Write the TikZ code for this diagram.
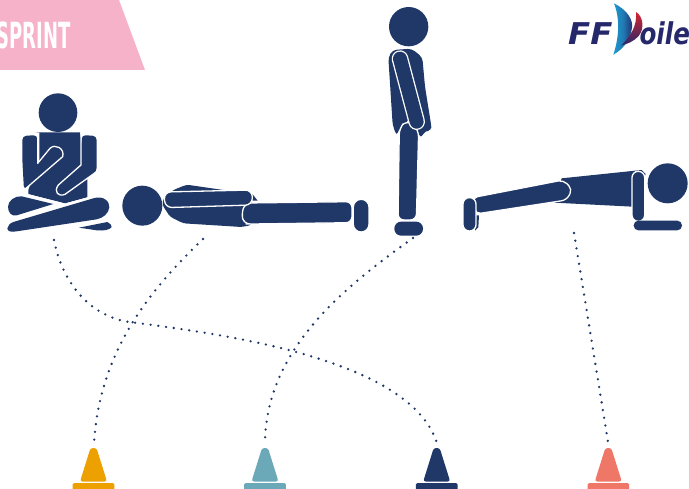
\documentclass[tikz,border=0pt]{standalone}
\usepackage{fontspec}
\setmainfont{DejaVu Sans}
\newfontfamily\logofont{DejaVu Sans}
\definecolor{navy}{HTML}{1F3868}
\definecolor{pinkbar}{HTML}{F5B2C8}
\definecolor{conea}{HTML}{EDA100}
\definecolor{coneb}{HTML}{6BA9B8}
\definecolor{conec}{HTML}{EE7768}
\definecolor{ffblue}{HTML}{25296B}
\definecolor{sailblue}{HTML}{1E9AD0}
\definecolor{sailred}{HTML}{D8232F}
\newcommand{\conemark}[2]{%
  \fill[#2,rounded corners=2.5pt] (#1-13.5,481.5) -- (#1-3,448) -- (#1+3,448) -- (#1+13.5,481.5) -- cycle;
  \fill[#2,rounded corners=1.5pt] (#1-20.8,483) rectangle (#1+20.8,493);
}
\tikzset{
  x=1pt,y=-1pt,
  body/.style={fill=navy,draw=none},
  limb/.style={fill=navy,draw=white,line width=1.3pt},
  edgeline/.style={draw=white,line width=1.3pt,line cap=round,line join=round},
  route/.style={draw=navy,line width=2.6pt,line cap=round,dash pattern=on 0pt off 7.8pt},
}
\begin{document}
\begin{tikzpicture}
\useasboundingbox (0,0) rectangle (689,489);
\begin{scope}
\clip (0,0) rectangle (689,489);
% banner
\fill[pinkbar] (0,0) -- (119,0) -- (145,70) -- (0,70) -- cycle;
\node[anchor=east,text=white,inner sep=0pt,xscale=0.5,font=\fontsize{36}{36}\selectfont\bfseries] (banner) at (70.5,35.5) {SPRINT};
% logo
\begin{scope}[shift={(550,0)},scale=1/3]
\shade[left color=sailblue,right color=ffblue,middle color=sailblue!70!ffblue] (192,10) .. controls (232,30) and (250,60) .. (246,84) .. controls (240,125) and (215,150) .. (190,164) .. controls (205,120) and (212,60) .. (192,10) -- cycle;
\shade[top color=sailred,bottom color=ffblue] (258,36) .. controls (280,50) and (284,85) .. (266,108) .. controls (252,124) and (232,132) .. (214,136) .. controls (240,110) and (262,80) .. (258,36) -- cycle;
\node[anchor=base west,inner sep=0pt,text=ffblue,xscale=1.08,font=\logofont\fontsize{30}{30}\selectfont\bfseries\itshape] (logoff) at (54,135) {FF};
\node[anchor=base west,inner sep=0pt,text=ffblue,xscale=0.82,font=\logofont\fontsize{30}{30}\selectfont\bfseries\itshape] (logov) at (268,135) {oile};
\end{scope}
% seated figure
\begin{scope}[shift={(0,80)},scale=1/3]
\fill[navy] (174,98) circle (58);
\path[body] (105,157) -- (240,157) -- (262,300) -- (262,352) -- (195,370) -- (85,342) -- (85,330) -- (118,240) -- (118,158) -- cycle;
\path[body,rounded corners=4pt] (112,165) -- (67,168) -- (67,240) -- (72,330) -- (195,225) -- (180,195) -- (150,197) -- (112,250) -- cycle;
\path[body,rounded corners=4pt] (245,165) -- (290,168) -- (290,275) -- (190,347) -- (165,345) -- (165,318) -- (245,255) -- cycle;
\draw[edgeline] (113,160) -- (113,250) -- (150,205) .. controls (165,190) and (195,205) .. (188,230) -- (72,330);
\draw[edgeline] (243,158) -- (243,255) -- (175,315) .. controls (160,335) and (175,352) .. (195,343) -- (290,275);
\draw[edgeline] (85,345) -- (195,373) -- (262,354);
\path[body] (24,380) .. controls (24,362) and (45,347) .. (65,349) -- (160,372) -- (50,406) .. controls (35,410) and (24,398) .. (24,380) -- cycle;
\path[body] (22,445) .. controls (24,435) and (30,430) .. (40,426) -- (280,355) .. controls (310,345) and (330,365) .. (328,382) .. controls (326,400) and (310,414) .. (290,418) -- (50,454) .. controls (35,457) and (22,455) .. (22,445) -- cycle;
\path[body] (237,443) -- (322,426) .. controls (330,430) and (336,436) .. (335,441) .. controls (330,450) and (310,453) .. (290,451) -- cycle;
\end{scope}
% lying figure
\begin{scope}[shift={(120,170)},scale=1/3]
\fill[navy] (67,107) circle (60);
\path[body,rounded corners=3pt] (160,60) -- (200,44) -- (310,60) -- (395,70) -- (395,165) -- (365,171) -- (190,160) -- (150,140) -- (127,105) -- (130,85) -- cycle;
\path[body] (397,72) -- (413,92) -- (397,92) -- cycle;
\path[limb,rounded corners=6pt] (395,162) -- (372,162) -- (364,130) -- (376,99) -- (696,95) -- (696,158) -- cycle;
\path[limb,rounded corners=7pt] (132,66) -- (397,60) -- (397,105) -- (135,113) -- cycle;
\path[limb,rounded corners=7.7pt] (700,88) rectangle (747,186);
\end{scope}
% standing figure
\begin{scope}[shift={(370,0)},scale=1/3]
\fill[navy] (116,80) circle (59);
\path[body,rounded corners=4pt] (55,172) -- (68,150) -- (125,146) -- (157,172) -- (165,260) -- (183,372) -- (185,392) -- (165,392) -- (152,416) -- (145,395) -- (90,380) -- (80,408) -- (68,375) -- cycle;
\path[limb,rounded corners=6pt] (84,660) -- (88,385) -- (108,362) -- (128,372) -- (146,392) -- (139,660) -- cycle;
\draw[line cap=round,white,line width=16.6pt] (90,176) -- (140,365);
\draw[line cap=round,navy,line width=14pt] (90,176) -- (140,365);
\fill[navy,rounded corners=6.8pt] (73,665) rectangle (159,707);
\end{scope}
% plank figure
\begin{scope}[shift={(455,150)},scale=1/3]
\fill[navy] (638,100) circle (60);
\path[body] (320,85) -- (560,60) -- (572,72) -- (532,170) -- (298,158) -- cycle;
\path[limb,rounded corners=5pt] (52,143) -- (325,90) -- (352,118) -- (335,150) -- (62,192) -- cycle;
\path[body] (62,196) -- (72,196) -- (70,232) -- (60,242) -- cycle;
\path[limb,rounded corners=6.3pt] (24,143) rectangle (63,243);
\path[limb,rounded corners=6.2pt] (531,64) rectangle (569,214);
\fill[navy,rounded corners=4.7pt] (536,212) rectangle (681,241);
\end{scope}
% cones
\conemark{93.5}{conea}
\conemark{265}{coneb}
\conemark{436.7}{navy}
\conemark{608.3}{conec}
\end{scope}
% routes
\coordinate (seated) at (54,240);
\coordinate (lying) at (203,239);
\coordinate (standing) at (413,238);
\coordinate (plank) at (574,233);
\coordinate (cross) at (133,322.5);
\coordinate (coneA) at (94,443);
\coordinate (coneB) at (265,440);
\coordinate (coneC) at (437,443);
\coordinate (coneD) at (608,442);
\draw[route] (seated) .. controls (62,282) and (90,318) .. (cross) .. controls (230,335) and (410,360) .. (coneC);
\draw[route] (lying) .. controls (150,290) and (100,350) .. (coneA);
\draw[route] (standing) .. controls (340,290) and (268,350) .. (coneB);
\draw[route] (plank) .. controls (585,300) and (598,380) .. (coneD);
\end{tikzpicture}
\end{document}
